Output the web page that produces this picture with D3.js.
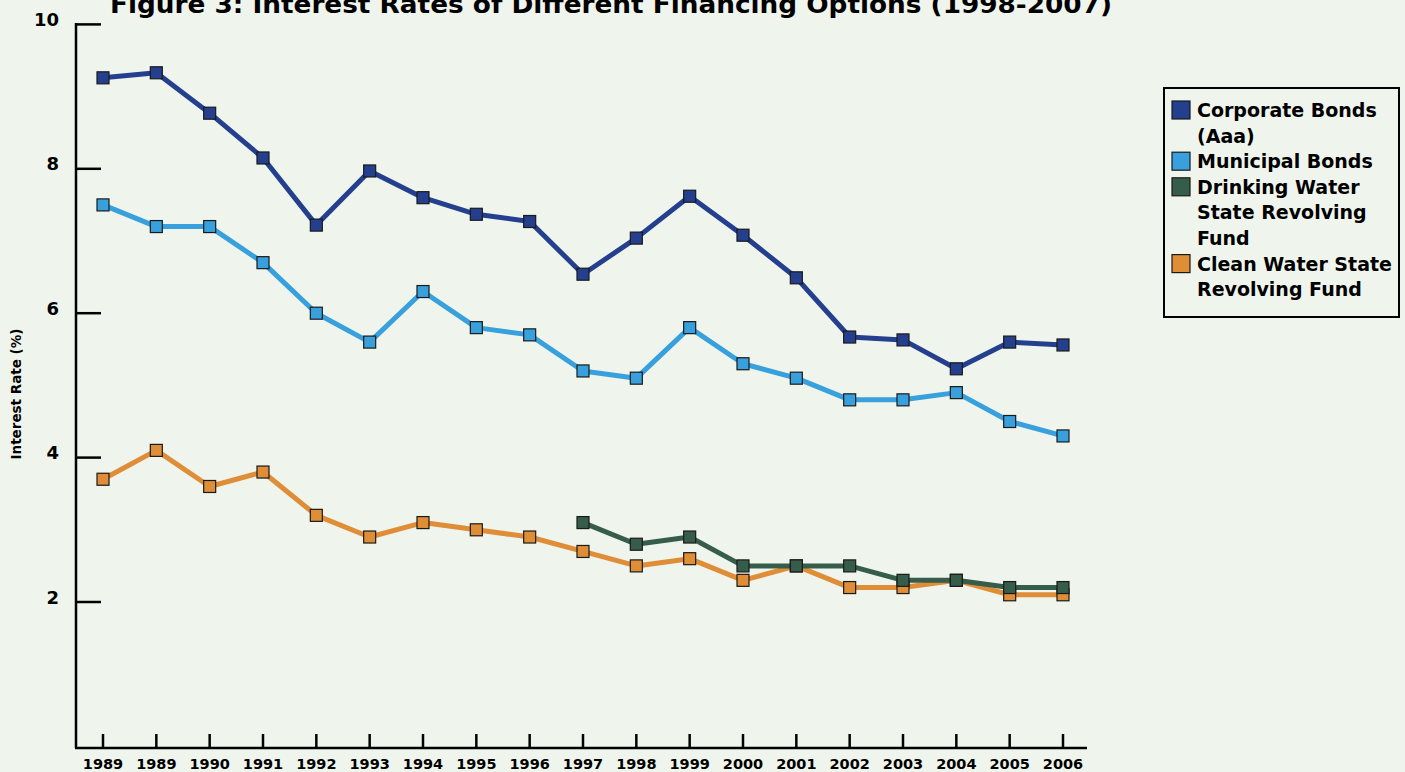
<!DOCTYPE html>
<html>
<head>
<meta charset="utf-8">
<script src="https://cdn.jsdelivr.net/npm/d3@7"></script>
<style>
  body { margin: 0; background: #eff5ec; }
  svg { display: block; font-family: "DejaVu Sans", Verdana, sans-serif; }
</style>
</head>
<body>
<svg id="chart" width="1405" height="772"></svg>
<script>
// Data
var years = ["1989", "1989b", "1990", "1991", "1992", "1993", "1994", "1995", "1996", "1997",
  "1998", "1999", "2000", "2001", "2002", "2003", "2004", "2005", "2006"];
var corporate = [9.26, 9.33, 8.77, 8.15, 7.22, 7.97, 7.6, 7.37, 7.27, 6.54,
  7.04, 7.62, 7.08, 6.49, 5.67, 5.63, 5.23, 5.6, 5.56];
var municipal = [7.5, 7.2, 7.2, 6.7, 6.0, 5.6, 6.3, 5.8, 5.7, 5.2,
  5.1, 5.8, 5.3, 5.1, 4.8, 4.8, 4.9, 4.5, 4.3];
var drinking = [null, null, null, null, null, null, null, null, null, 3.1,
  2.8, 2.9, 2.5, 2.5, 2.5, 2.3, 2.3, 2.2, 2.2];
var clean = [3.7, 4.1, 3.6, 3.8, 3.2, 2.9, 3.1, 3.0, 2.9, 2.7,
  2.5, 2.6, 2.3, 2.5, 2.2, 2.2, 2.3, 2.1, 2.1];
var yTicks = [2, 4, 6, 8, 10];

var series = [
  { name: ["Corporate Bonds", "(Aaa)"], values: corporate, color: "#253f8f" },
  { name: ["Municipal Bonds"], values: municipal, color: "#38a0dc" },
  { name: ["Drinking Water", "State Revolving", "Fund"], values: drinking, color: "#365d4a" },
  { name: ["Clean Water State", "Revolving Fund"], values: clean, color: "#df8d37" }
];
// draw order: clean below drinking
var drawOrder = [series[0], series[1], series[3], series[2]];

var svg = d3.select("#chart");

var xScale = d3.scalePoint().domain(years).range([103, 1063]);
var yScale = d3.scaleLinear().domain([0, 10]).range([746.4, 24.4]);

// Title (top is cut off in the original figure)
svg.append("text")
  .attr("x", 110)
  .attr("y", 13)
  .attr("textLength", 1002)
  .attr("lengthAdjust", "spacingAndGlyphs")
  .style("font-size", "25px")
  .style("font-weight", "bold")
  .text("Figure 3: Interest Rates of Different Financing Options (1998-2007)");

// Axes
svg.append("line")
  .attr("x1", 76).attr("x2", 76)
  .attr("y1", 23).attr("y2", 748)
  .attr("stroke", "#000").attr("stroke-width", 2.5);
svg.append("line")
  .attr("x1", 75).attr("x2", 1087)
  .attr("y1", 748).attr("y2", 748)
  .attr("stroke", "#000").attr("stroke-width", 2.5);

// Y ticks (inward)
var yt = svg.append("g");
yt.selectAll("line").data(yTicks).enter().append("line")
  .attr("x1", 76).attr("x2", 101)
  .attr("y1", d => yScale(d)).attr("y2", d => yScale(d))
  .attr("stroke", "#000").attr("stroke-width", 2.5);
yt.selectAll("text").data(yTicks).enter().append("text")
  .attr("x", 59)
  .attr("y", d => yScale(d) + 1.5)
  .attr("text-anchor", "end")
  .style("font-size", "18px")
  .style("font-weight", "bold")
  .text(d => d);

// X ticks (upward)
var xt = svg.append("g");
xt.selectAll("line").data(years).enter().append("line")
  .attr("x1", d => xScale(d)).attr("x2", d => xScale(d))
  .attr("y1", 734).attr("y2", 748)
  .attr("stroke", "#000").attr("stroke-width", 2.5);
xt.selectAll("text").data(years).enter().append("text")
  .attr("x", d => xScale(d))
  .attr("y", 769)
  .attr("text-anchor", "middle")
  .style("font-size", "14.5px")
  .style("font-weight", "bold")
  .text(d => d.slice(0, 4));

// Y axis label
svg.append("text")
  .attr("transform", "translate(21,394) rotate(-90)")
  .attr("text-anchor", "middle")
  .style("font-size", "13.5px")
  .style("font-weight", "bold")
  .text("Interest Rate (%)");

// Lines
var line = d3.line()
  .defined(d => d.v != null)
  .x(d => xScale(d.year))
  .y(d => yScale(d.v));

drawOrder.forEach(function(s) {
  var pts = s.values.map((v, i) => ({ year: years[i], v: v }));
  svg.append("path")
    .datum(pts)
    .attr("fill", "none")
    .attr("stroke", s.color)
    .attr("stroke-width", 5)
    .attr("stroke-linejoin", "round")
    .attr("d", line);
});
drawOrder.forEach(function(s) {
  var pts = s.values.map((v, i) => ({ year: years[i], v: v })).filter(d => d.v != null);
  svg.append("g").selectAll("rect").data(pts).enter().append("rect")
    .attr("x", d => xScale(d.year) - 6)
    .attr("y", d => yScale(d.v) - 6)
    .attr("width", 12).attr("height", 12)
    .attr("fill", s.color)
    .attr("stroke", "#1a1a1a")
    .attr("stroke-width", 1.2);
});

// Legend
var lg = svg.append("g");
lg.append("rect")
  .attr("x", 1164).attr("y", 88)
  .attr("width", 235).attr("height", 229)
  .attr("fill", "none").attr("stroke", "#000").attr("stroke-width", 2);
var lineH = 25.6, row = 0;
series.forEach(function(s) {
  var top = 101 + row * lineH;
  lg.append("rect")
    .attr("x", 1172).attr("y", top)
    .attr("width", 18).attr("height", 18)
    .attr("fill", s.color).attr("stroke", "#1a1a1a").attr("stroke-width", 1.2);
  s.name.forEach(function(t, j) {
    lg.append("text")
      .attr("x", 1197)
      .attr("y", top + 16 + j * lineH)
      .style("font-size", "19px")
      .style("font-weight", "bold")
      .text(t);
  });
  row += s.name.length;
});
</script>
</body>
</html>
